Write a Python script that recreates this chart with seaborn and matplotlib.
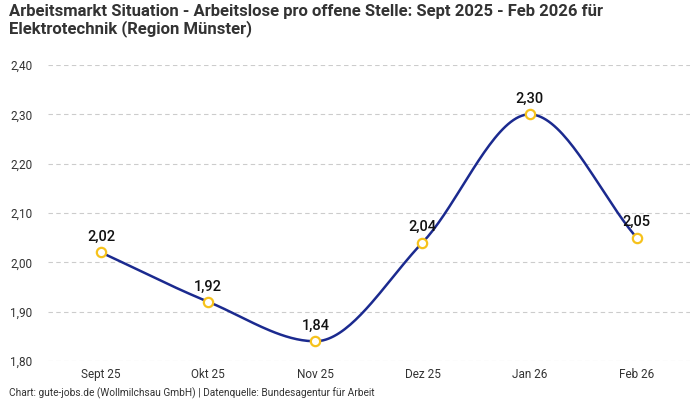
import numpy as np
import pandas as pd
import matplotlib
matplotlib.use("Agg")
import matplotlib.pyplot as plt
import seaborn as sns

# Arbeitslose pro offene Stelle, Elektrotechnik (Region Münster)
months = ["Sept 25", "Okt 25", "Nov 25", "Dez 25", "Jan 26", "Feb 26"]
ratio = [2.02, 1.92, 1.84, 2.04, 2.30, 2.05]
y_ticks = [1.80, 1.90, 2.00, 2.10, 2.20, 2.30, 2.40]

title = ("Arbeitsmarkt Situation - Arbeitslose pro offene Stelle: Sept 2025 - Feb 2026 für\n"
         "Elektrotechnik (Region Münster)")
footer = "Chart: gute-jobs.de (Wollmilchsau GmbH) | Datenquelle: Bundesagentur für Arbeit"

LINE_COLOR = "#1b2a8f"
MARKER_EDGE = "#f6c21c"


def monotone_curve(y, steps=40):
    """Monotone cubic (Fritsch-Carlson) curve through the points, like Chart.js."""
    y = np.asarray(y, dtype=float)
    n = len(y)
    x = np.arange(n, dtype=float)
    d = np.diff(y)
    m = np.zeros(n)
    m[0], m[-1] = d[0], d[-1]
    for i in range(1, n - 1):
        if d[i - 1] * d[i] <= 0:
            m[i] = 0.0
        else:
            m[i] = 2.0 / (1.0 / d[i - 1] + 1.0 / d[i])
    xs, ys = [], []
    for i in range(n - 1):
        t = np.linspace(0, 1, steps, endpoint=(i == n - 2))
        h00 = 2 * t**3 - 3 * t**2 + 1
        h10 = t**3 - 2 * t**2 + t
        h01 = -2 * t**3 + 3 * t**2
        h11 = t**3 - t**2
        xs.append(x[i] + t)
        ys.append(h00 * y[i] + h10 * m[i] + h01 * y[i + 1] + h11 * m[i + 1])
    return np.concatenate(xs), np.concatenate(ys)


sns.set_theme(style="white")
plt.rcParams["font.family"] = ["Roboto", "DejaVu Sans"]

df = pd.DataFrame({"pos": np.arange(len(months)), "ratio": ratio, "month": months})
cx, cy = monotone_curve(ratio)
curve = pd.DataFrame({"x": cx, "y": cy})

fig = plt.figure(figsize=(7, 4), dpi=100)
ax = fig.add_axes([0.068, 0.0975, 0.918, 0.74])

sns.lineplot(data=curve, x="x", y="y", color=LINE_COLOR, linewidth=1.8,
             ax=ax, zorder=3, sort=False)
sns.scatterplot(data=df, x="pos", y="ratio", s=45, color="white",
                edgecolor=MARKER_EDGE, linewidth=1.6, ax=ax, zorder=4)

for p, v in zip(df["pos"], df["ratio"]):
    ax.annotate(f"{v:.2f}".replace(".", ","), (p, v), xytext=(0, 6),
                textcoords="offset points", ha="center", va="bottom",
                fontsize=10.5, fontweight="medium", color="#111111", zorder=5)

ax.set_xlim(-0.5, len(months) - 0.5)
ax.set_ylim(1.80, 2.40)
ax.set_xticks(df["pos"])
ax.set_xticklabels(months)
ax.set_yticks(y_ticks)
ax.set_yticklabels([f"{t:.2f}".replace(".", ",") for t in y_ticks])
ax.tick_params(axis="both", labelsize=8.5, colors="#333333", length=0)
ax.tick_params(axis="x", pad=5)
ax.tick_params(axis="y", pad=11)
ax.set_xlabel("")
ax.set_ylabel("")
ax.grid(axis="y", color="#cccccc", linestyle=(0, (4, 3)), linewidth=0.8)
ax.set_axisbelow(True)
for s in ax.spines.values():
    s.set_visible(False)

fig.text(0.013, 0.99, title, ha="left", va="top", fontsize=12,
         fontweight="bold", color="#333333", linespacing=1.1)
fig.text(0.013, 0.0175, footer, ha="left", va="center", fontsize=7.3, color="#333333")

fig.savefig("out.png", dpi=100)
